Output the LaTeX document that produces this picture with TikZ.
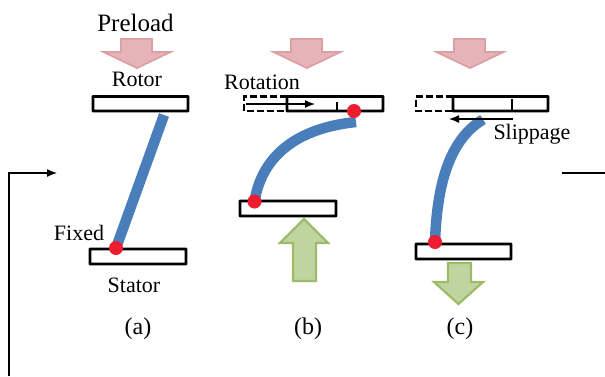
\documentclass[tikz,border=0pt]{standalone}
\usepackage{fontspec}
\setmainfont{Liberation Serif}
\usetikzlibrary{arrows.meta}
\definecolor{pinkfill}{HTML}{E6B4B8}
\definecolor{pinkedge}{HTML}{DCA0A4}
\definecolor{greenfill}{HTML}{C0D4A2}
\definecolor{greenedge}{HTML}{9DBB64}
\definecolor{beamblue}{HTML}{4A7EBB}
\definecolor{pinred}{HTML}{ED1C2E}
\tikzset{
  plate/.style={draw=black,line width=2.9pt,fill=white,rounded corners=0.5pt},
  ghost/.style={draw=black,line width=2.9pt,dash pattern=on 7pt off 3pt},
  preload/.style={draw=pinkedge,fill=pinkfill,line width=1.8pt},
  force/.style={draw=greenedge,fill=greenfill,line width=2.2pt},
  beam/.style={draw=beamblue,line width=10.5pt},
  pin/.style={circle,fill=pinred,inner sep=0pt,minimum size=14pt},
  txt/.style={inner sep=0pt,font=\fontsize{22}{24}\selectfont},
  captxt/.style={inner sep=0pt,font=\fontsize{24}{26}\selectfont},
  motion/.style={-{Latex[length=10pt,width=8pt]},line width=1.3pt}
}
\begin{document}
\begin{tikzpicture}[x=1pt,y=-1pt]
\useasboundingbox (0,0) rectangle (605,376);
% preload arrows
\foreach \x in {137,307,470}{
\draw[preload] (\x-16,39)--(\x+15,39)--(\x+15,52)--(\x+33.5,52)--(\x,68)--(\x-33.5,52)--(\x-16,52)--cycle;
}
% plates
\draw[plate] (93,96.5) rectangle (188,111);
\draw[plate] (90,249) rectangle (186,264);
\draw[ghost] (287,96.5)--(244,96.5)--(244,111)--(287,111);
\draw[plate] (287,96.5) rectangle (383,111);
\draw[plate] (240,201) rectangle (336,216);
\draw[ghost] (453,96.5)--(416,96.5)--(416,111)--(453,111);
\draw[plate] (453,96.5) rectangle (548,111);
\draw[plate] (416,244) rectangle (511,259);
% ticks
\draw[line width=1.8pt] (337,102)--(337,111);
\draw[line width=1.8pt] (512,99)--(512,111);
% forces
\draw[force] (293,281)--(293,243)--(280,243)--(304,219)--(328,243)--(316,243)--(316,281)--cycle;
\draw[force] (448,263)--(471,263)--(471,282)--(483,282)--(458.5,304)--(434,282)--(448,282)--cycle;
% beams
\coordinate (fixa) at (116,248);
\coordinate (fixb) at (254.5,201.5);
\coordinate (fixc) at (435,242);
\coordinate (topa) at (164,115);
\coordinate (endb) at (356,122);
\coordinate (endc) at (483,119.5);
\draw[beam] (topa)--(fixa);
\draw[beam] (fixb) .. controls (262,155) and (298,128) .. (endb);
\draw[beam] (fixc) .. controls (437,185) and (449,140) .. (endc);
% pins
\node[pin] (pina) at (fixa) {};
\node[pin] (pinb) at (fixb) {};
\node[pin] (pinc) at (fixc) {};
\node[pin] (pind) at (354,111) {};
% motion arrows
\coordinate (rotfrom) at (246,104);
\coordinate (rotto) at (315,104);
\coordinate (slipfrom) at (513,119);
\coordinate (slipto) at (449,119);
\draw[motion] (rotfrom)--(rotto);
\draw[motion] (slipfrom)--(slipto);
% outer line
\coordinate (framea) at (9,376);
\coordinate (frameb) at (9,173);
\coordinate (framec) at (57,173);
\coordinate (framed) at (562,173);
\coordinate (framee) at (605,173);
\draw[motion] (framea)--(frameb)--(framec);
\draw[line width=1.3pt] (framed)--(framee);
% labels
\node[txt,font=\fontsize{25}{27}\selectfont] (preloadtxt) at (135.5,23) {Preload};
\node[txt] (rotortxt) at (137,79) {Rotor};
\node[txt] (rotationtxt) at (262,82) {Rotation};
\node[txt] (fixedtxt) at (79,233) {Fixed};
\node[txt] (statortxt) at (134,285) {Stator};
\node[txt] (slippagetxt) at (532,134) {Slippage};
\node[captxt] (capa) at (138,329) {(a)};
\node[captxt] (capb) at (308,329) {(b)};
\node[captxt] (capc) at (460,329) {(c)};
\end{tikzpicture}
\end{document}
